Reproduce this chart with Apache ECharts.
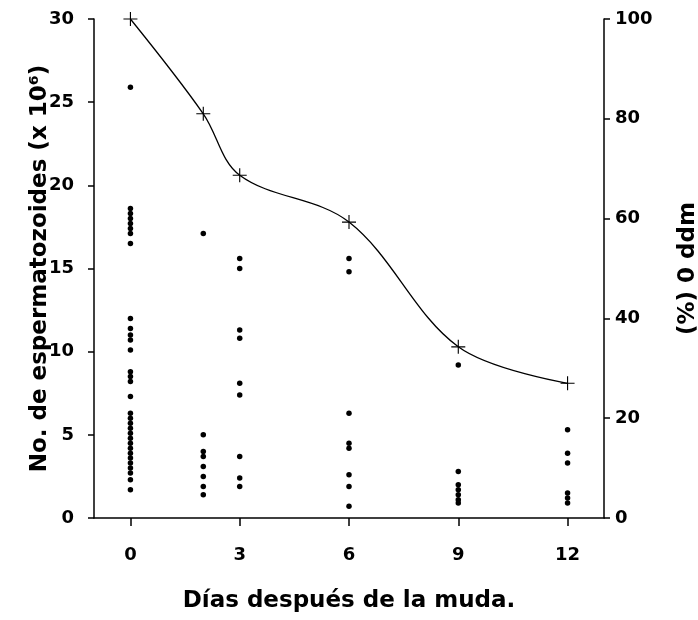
<!DOCTYPE html>
<html>
<head>
<meta charset="UTF-8">
<title>espermatozoides</title>
<script src="https://cdn.jsdelivr.net/npm/echarts@6/dist/echarts.min.js"></script>
<style>
  html, body { margin: 0; padding: 0; background: #fff; }
  #main { width: 698px; height: 620px; }
</style>
</head>
<body>
<div id="main"></div>
<script>
// dias despues de la muda y recuentos individuales (x 10^6)
const days = [0, 2, 3, 6, 9, 12]
const day0 = [25.9, 18.6, 18.3, 18.0, 17.7, 17.4, 17.1, 16.5, 12.0, 11.4, 11.0, 10.7, 10.1,
  8.8, 8.5, 8.2, 7.3, 6.3, 6.0, 5.7, 5.4, 5.1, 4.8, 4.5, 4.2, 3.9, 3.6, 3.3, 3.0, 2.7, 2.3, 1.7]
const day2 = [17.1, 5.0, 4.0, 3.7, 3.1, 2.5, 1.9, 1.4]
const day3 = [15.6, 15.0, 11.3, 10.8, 8.1, 7.4, 3.7, 2.4, 1.9]
const day6 = [15.6, 14.8, 6.3, 4.5, 4.2, 2.6, 1.9, 0.7]
const day9 = [9.2, 2.8, 2.0, 1.7, 1.4, 1.1, 0.9]
const day12 = [5.3, 3.9, 3.3, 1.5, 1.2, 0.9]
// porcentaje respecto al dia 0
const pct = [100, 81, 68.7, 59.3, 34.3, 27]
const xTicks = [0, 3, 6, 9, 12]

let groups = [day0, day2, day3, day6, day9, day12]
let points = []
for (let i = 0; i < groups.length; i++) {
  for (const v of groups[i]) points.push([days[i], v])
}
let linePts = days.map((d, i) => [d, pct[i]])

const font = 'DejaVu Sans'
const plus = 'path://M4.6,0h0.8v4.6h4.6v0.8h-4.6v4.6h-0.8v-4.6h-4.6v-0.8h4.6z'
const nameStyle = { fontFamily: font, fontWeight: 'bold', fontSize: 23, color: '#000' }
const tickStyle = { fontFamily: font, fontWeight: 'bold', fontSize: 18, color: '#000' }

let chart = echarts.init(document.getElementById('main'), null, { renderer: 'canvas' })
chart.setOption({
  animation: false,
  backgroundColor: '#fff',
  grid: { left: 94, right: 94, top: 19, bottom: 102, outerBoundsMode: 'none', containLabel: false },
  xAxis: {
    type: 'value', min: -1, max: 13,
    name: 'Días después de la muda.',
    nameLocation: 'middle', nameGap: 72,
    nameTextStyle: nameStyle,
    axisLine: { onZero: false, lineStyle: { color: '#000', width: 1.5 } },
    axisTick: { customValues: xTicks, length: 8, lineStyle: { color: '#000', width: 1.5 } },
    axisLabel: Object.assign({ customValues: xTicks, margin: 28 }, tickStyle),
    splitLine: { show: false }
  },
  yAxis: [{
    type: 'value', min: 0, max: 30, interval: 5,
    name: 'No. de espermatozoides (x 10⁶)',
    nameLocation: 'middle', nameGap: 42, nameRotate: 90, nameMoveOverlap: false,
    nameTextStyle: nameStyle,
    axisLine: { show: true, onZero: false, lineStyle: { color: '#000', width: 1.5 } },
    axisTick: { show: true, length: 6, lineStyle: { color: '#000', width: 1.5 } },
    axisLabel: Object.assign({ margin: 20 }, tickStyle),
    splitLine: { show: false }
  }, {
    type: 'value', min: 0, max: 100, interval: 20, position: 'right',
    name: '(%) 0 ddm',
    nameLocation: 'middle', nameGap: 73, nameRotate: 90,
    nameTextStyle: nameStyle,
    axisLine: { show: true, onZero: false, lineStyle: { color: '#000', width: 1.5 } },
    axisTick: { show: true, length: 6, lineStyle: { color: '#000', width: 1.5 } },
    axisLabel: Object.assign({ margin: 11 }, tickStyle),
    splitLine: { show: false }
  }],
  series: [{
    type: 'scatter',
    yAxisIndex: 0,
    data: points,
    symbol: 'circle',
    symbolSize: 5.5,
    itemStyle: { color: '#000', opacity: 1 }
  }, {
    type: 'line',
    yAxisIndex: 1,
    data: linePts,
    smooth: 0.35,
    symbol: plus,
    symbolSize: 14,
    lineStyle: { color: '#000', width: 1.3 },
    itemStyle: { color: '#000' }
  }]
})
</script>
</body>
</html>
